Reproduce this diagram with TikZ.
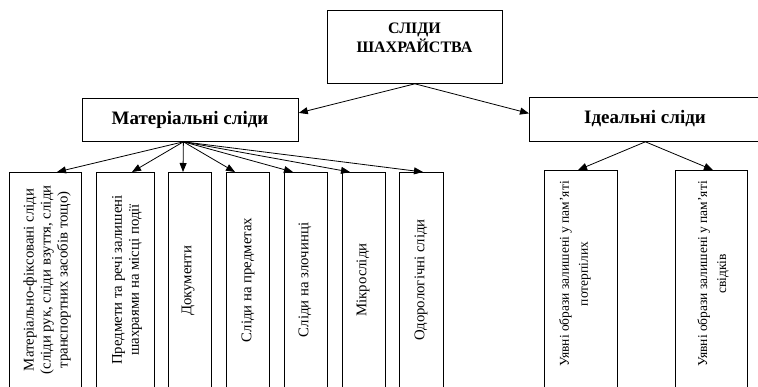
\documentclass[tikz,border=0pt]{standalone}
\usepackage{fontspec}
\setmainfont{Liberation Serif}
\usetikzlibrary{arrows.meta}
\begin{document}
\begin{tikzpicture}[x=1pt,y=-1pt,
  box/.style={draw, line width=0.8pt, inner sep=0pt, anchor=north west},
  arr/.style={-{Triangle[length=9pt,width=7pt]}, line width=0.8pt},
  vtext/.style={rotate=90, align=center, inner sep=0pt, font=\fontsize{14.8}{17}\selectfont},
  btext/.style={align=center, inner sep=0pt, font=\fontsize{19}{22}\selectfont\bfseries},
  ttext/.style={align=center, inner sep=0pt, font=\fontsize{16}{19}\selectfont\bfseries}]
\useasboundingbox (0,0) rectangle (758,386);
\clip (0,0) rectangle (758,386);

% top level
\node[box, minimum width=175pt, minimum height=73pt] (top) at (327,10) {};
\node[ttext] (toptxt) at (414.5,37.5) {СЛІДИ\\ШАХРАЙСТВА};

% second level
\node[box, minimum width=216pt, minimum height=43pt] (mat) at (82,98) {};
\node[btext] (mattxt) at (190,119.5) {Матеріальні сліди};
\node[box, minimum width=232pt, minimum height=44pt] (ide) at (529,97) {};
\node[btext] (idetxt) at (645,119) {Ідеальні сліди};

% third level, material
\node[box, minimum width=72pt, minimum height=218pt] (b1) at (9,172) {};
\node[box, minimum width=58pt, minimum height=218pt] (b2) at (96,172) {};
\node[box, minimum width=43pt, minimum height=218pt] (b3) at (168,172) {};
\node[box, minimum width=43pt, minimum height=218pt] (b4) at (226,172) {};
\node[box, minimum width=43pt, minimum height=218pt] (b5) at (284,172) {};
\node[box, minimum width=43pt, minimum height=218pt] (b6) at (342,172) {};
\node[box, minimum width=44pt, minimum height=218pt] (b7) at (399,172) {};

\node[vtext] (t1) at (47,280) {Матеріально-фіксовані сліди\\(сліди рук, сліди взуття, сліди\\транспортних засобів тощо)};
\node[vtext] (t2) at (127,280) {Предмети та речі залишені\\шахраями на місці події};
\node[vtext] (t3) at (188,281) {Документи};
\node[vtext] (t4) at (248,280) {Сліди на предметах};
\node[vtext] (t5) at (305,280) {Сліди на злочинці};
\node[vtext] (t6) at (363,280) {Мікросліди};
\node[vtext] (t7) at (421,280) {Одорологічні сліди};

% third level, ideal
\node[box, minimum width=73pt, minimum height=220pt] (b8) at (544,170) {};
\node[box, minimum width=72pt, minimum height=220pt] (b9) at (675,170) {};
\node[vtext, font=\fontsize{13.5}{19}\selectfont] (t8) at (575,274) {Уявні образи залишені у пам’яті\\потерпілих};
\node[vtext, font=\fontsize{13.5}{19}\selectfont] (t9) at (713,274) {Уявні образи залишені у пам’яті\\свідків};

% connectors
\draw[arr] (top.south) -- ([yshift=7pt]mat.east);
\draw[arr] (top.south) -- ([yshift=6pt]ide.west);

\draw[arr] ([xshift=-7pt]mat.south) -- ([xshift=48pt]b1.north west);
\draw[arr] ([xshift=-7pt]mat.south) -- ([xshift=36pt]b2.north west);
\draw[arr] ([xshift=-7pt]mat.south) -- ([xshift=15pt]b3.north west);
\draw[arr] ([xshift=-7pt]mat.south) -- ([xshift=9pt]b4.north west);
\draw[arr] ([xshift=-7pt]mat.south) -- ([xshift=9pt]b5.north west);
\draw[arr] ([xshift=-7pt]mat.south) -- ([xshift=8pt]b6.north west);
\draw[arr] ([xshift=-7pt]mat.south) -- ([xshift=24pt]b7.north west);

\draw[arr] (ide.south) -- ([xshift=34pt]b8.north west);
\draw[arr] (ide.south) -- ([xshift=38pt]b9.north west);
\end{tikzpicture}
\end{document}
